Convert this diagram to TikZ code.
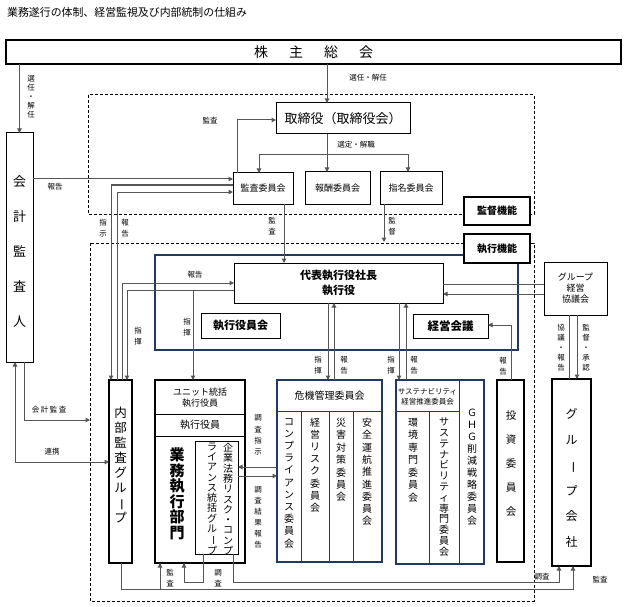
\documentclass[tikz,border=0pt]{standalone}
\usepackage{fontspec}
\usepackage{graphicx}
\setmainfont{Noto Sans CJK JP}
\usetikzlibrary{arrows.meta}
\definecolor{navy}{HTML}{1F3864}
\definecolor{ln}{HTML}{555555}
\newcommand{\vb}{\rotatebox[origin=c]{-90}{ー}}
\newcommand{\fs}[2]{\fontsize{#1}{#2}\selectfont}
\begin{document}
\begin{tikzpicture}[x=1pt,y=-1pt,
  bx/.style={draw=black, fill=white, line width=1pt, inner sep=0pt, outer sep=0pt, align=center},
  nv/.style={draw=navy, fill=white, line width=1.5pt, inner sep=0pt, outer sep=0pt},
  lab/.style={font=\fs{7.5}{10.5}, inner sep=0pt, align=center},
  txt/.style={inner sep=0pt, align=center},
  cn/.style={draw=ln, line width=1pt},
  ar/.style={cn, -{Triangle[length=4.5pt,width=4.5pt]}},
  dar/.style={cn, {Triangle[length=4.5pt,width=4.5pt]}-{Triangle[length=4.5pt,width=4.5pt]}},
  dsh/.style={draw=black, line width=1pt, dash pattern=on 3pt off 2pt},
  sep/.style={draw=black, line width=1pt},
  nsep/.style={draw=navy, line width=1pt},
]
\useasboundingbox (0,0) rectangle (624,607);
\fill[white] (0,0) rectangle (624,607);

% title
\node[txt, anchor=west, font=\fs{10.9}{13}] (title) at (7,12) {業務遂行の体制、経営監視及び内部統制の仕組み};

% regions
\draw[dsh] (88,95) rectangle (534,214);
\draw[dsh] (90,243) rectangle (534,601);
\draw[draw=navy, line width=2pt] (155,255) rectangle (518,350);

% boxes
\node[bx, line width=2pt, minimum width=615, minimum height=24, font=\fs{14}{16}] (kabu) at (313.5,52) {株\hspace{21pt}主\hspace{21pt}総\hspace{21pt}会};
\node[bx, minimum width=27, minimum height=229] (kaikei) at (19.5,247.5) {};
\node[txt, font=\fs{13}{35}] (kaikeit) at (19.5,252) {会\\計\\監\\査\\人};

\node[bx, minimum width=134, minimum height=31, font=\fs{13}{15}] (tori) at (343,118.5) {取締役（取締役会）};
\node[bx, minimum width=60, minimum height=31, font=\fs{9}{11}] (kansa) at (263,188.5) {監査委員会};
\node[bx, minimum width=65, minimum height=32, font=\fs{9}{11}] (hoshu) at (337.5,188) {報酬委員会};
\node[bx, minimum width=62, minimum height=32, font=\fs{9}{11}] (shimei) at (411,188) {指名委員会};
\node[bx, line width=2pt, minimum width=66, minimum height=28, font=\bfseries\fs{10}{12}] (kantoku) at (497,211) {監督機能};
\node[bx, line width=2pt, minimum width=66, minimum height=29, font=\bfseries\fs{10}{12}] (shikko) at (497,248.5) {執行機能};

\node[bx, minimum width=209, minimum height=40, font=\bfseries\fs{11}{15}] (daihyo) at (338.5,283) {代表執行役社長\\執行役};
\node[bx, minimum width=79, minimum height=25, font=\bfseries\fs{11}{13}] (yakuin) at (240.5,325.5) {執行役員会};
\node[bx, minimum width=75, minimum height=24, font=\bfseries\fs{11.5}{13}] (keiei) at (450.5,326) {経営会議};
\node[bx, minimum width=63, minimum height=53, font=\fs{9}{11}] (council) at (575.5,288.5) {グループ\\経営\\協議会};

\node[bx, line width=1.5pt, minimum width=23, minimum height=183] (naibu) at (120.5,471.5) {};
\node[txt, font=\fs{12.5}{15}] (naibut) at (120.5,465) {内\\部\\監\\査\\グ\\ル\\\vb\\プ};

\node[bx, line width=2pt, minimum width=90, minimum height=183] (gyomu) at (200,471.5) {};
\draw[sep] (gyomu.west |- 0,414) -- (gyomu.east |- 0,414);
\draw[sep] (gyomu.west |- 0,436) -- (gyomu.east |- 0,436);
\node[txt, font=\fs{9}{11}] (unit) at (200,397.5) {ユニット統括\\執行役員};
\node[txt, font=\fs{10}{12}] (shikkoy) at (200,425) {執行役員};
\node[txt, font=\bfseries\fs{15}{15.5}] (gyomut) at (177,494) {業\\務\\執\\行\\部\\門};
\node[bx, minimum width=43, minimum height=113] (kigyo) at (216.5,497.5) {};
\node[txt, font=\fs{10}{10.3}] (kigyo1) at (228,499) {企\\業\\法\\務\\リ\\ス\\ク\\・\\コ\\ン\\プ};
\node[txt, font=\fs{10}{10.3}] (kigyo2) at (212,499) {ラ\\イ\\ア\\ン\\ス\\統\\括\\グ\\ル\\\vb\\プ};

\node[nv, minimum width=105, minimum height=182] (kiki) at (329.5,471) {};
\draw[nsep] (kiki.west |- 0,411) -- (kiki.east |- 0,411);
\draw[nsep] (301,411) -- (kiki.south -| 301,0);
\draw[nsep] (329,411) -- (kiki.south -| 329,0);
\draw[nsep] (353,411) -- (kiki.south -| 353,0);
\node[txt, font=\fs{10}{12}] (kikit) at (329.5,395.5) {危機管理委員会};
\node[txt, font=\fs{10}{12.2}] (c1) at (289,483) {コ\\ン\\プ\\ラ\\イ\\ア\\ン\\ス\\委\\員\\会};
\node[txt, font=\fs{10}{12.2}] (c2) at (315,465) {経\\営\\リ\\ス\\ク\\委\\員\\会};
\node[txt, font=\fs{10}{12.4}] (c3) at (341,460) {災\\害\\対\\策\\委\\員\\会};
\node[txt, font=\fs{10}{12.3}] (c4) at (367,472) {安\\全\\運\\航\\推\\進\\委\\員\\会};

\node[nv, minimum width=88, minimum height=184] (sus) at (440,472) {};
\draw[nsep] (sus.west |- 0,411) -- (459,411);
\draw[nsep] (sus.north -| 459,0) -- (sus.south -| 459,0);
\draw[nsep] (429,411) -- (sus.south -| 429,0);
\node[txt, font=\fs{7.5}{10}] (sust) at (427.5,396.5) {サステナビリティ\\経営推進委員会};
\node[txt, font=\fs{10}{12.5}] (s1) at (413,460) {環\\境\\専\\門\\委\\員\\会};
\node[txt, font=\fs{10}{10.8}] (s2) at (444,487) {サ\\ス\\テ\\ナ\\ビ\\リ\\テ\\ィ\\専\\門\\委\\員\\会};
\node[txt, font=\fs{10}{12}] (s3) at (472,467) {Ｇ\\Ｈ\\Ｇ\\削\\減\\戦\\略\\委\\員\\会};

\node[bx, line width=2.5pt, minimum width=27, minimum height=182] (toshi) at (510.5,471) {};
\node[txt, font=\fs{10.5}{24}] (toshit) at (511,464) {投\\資\\委\\員\\会};
\node[bx, line width=1.5pt, minimum width=39, minimum height=187] (groupco) at (571.5,472.5) {};
\node[txt, font=\fs{12}{25.6}] (groupcot) at (571.5,478) {グ\\ル\\\vb\\プ\\会\\社};

% connectors
\draw[ar] (kabu.south -| kaikei.north) -- (kaikei.north);
\draw[ar] (kabu.south -| 327,0) -- (tori.north -| 327,0);
\draw[ar] (tori.south -| 327,0) -- (hoshu.north -| 327,0);
\draw[ar] (tori.south -| 327,0) -- (327,155) -| (kansa.north -| 259,0);
\draw[ar] (tori.south -| 327,0) -- (327,155) -| (shimei.north -| 408,0);
\draw[ar] (kansa.north -| 237,0) |- (tori.west |- 0,120);
\draw[ar] (kaikei.east |- 0,179) -- (kansa.west |- 0,179);
\draw[ar] (kansa.west |- 0,185) -| (naibu.north -| 111,0);
\draw[ar] (naibu.north -| 117,0) |- (kansa.west |- 0,192);
\draw[ar] (naibu.north -| 122,0) |- (daihyo.west |- 0,283);
\draw[ar] (daihyo.west |- 0,290) -| (naibu.north -| 127,0);
\draw[ar] (daihyo.west |- 0,290) -| (gyomu.north -| 193,0);
\draw[ar] (kansa.south -| 284,0) -- (daihyo.north -| 284,0);
\coordinate (kend) at (384,242);
\draw[ar] (shimei.south -| 384,0) -- (kend);
\draw[ar] (daihyo.south -| 328,0) -- (kiki.north -| 328,0);
\draw[ar] (kiki.north -| 334,0) -- (daihyo.south -| 334,0);
\draw[ar] (daihyo.south -| 399,0) -- (sus.north -| 399,0);
\draw[ar] (sus.north -| 406,0) -- (daihyo.south -| 406,0);
\draw[cn] (council.west |- 0,284) -- (daihyo.east |- 0,284);
\draw[ar] (council.west |- 0,294) -- (daihyo.east |- 0,294);
\draw[ar] (toshi.north -| 511,0) |- (keiei.east |- 0,325);
\draw[cn] (council.south -| 569,0) -- (groupco.north -| 569,0);
\draw[ar] (council.south -| 577,0) -- (groupco.north -| 577,0);
\draw[ar] (kiki.west |- 0,467) -- (kigyo.east |- 0,467);
\draw[ar] (kigyo.east |- 0,476) -- (kiki.west |- 0,476);
\coordinate (aend) at (90,420);
\draw[ar] (kaikei.south -| 24,0) |- (aend);
\draw[dar] (kaikei.south -| 15,0) |- (naibu.west |- 0,462);
\draw[ar] (naibu.south -| 121,0) |- (573,589) -- (groupco.south -| 573,0);
\draw[ar] (160,589) -- (gyomu.south -| 160,0);
\draw[ar] (kigyo.south -| 203,0) -- (203,582) -| (gyomu.south -| 184,0);
\draw[ar] (kigyo.south -| 233,0) -- (233,582) -| (groupco.south -| 559,0);

% labels
\node[lab, font=\fs{7.5}{9}] (l1) at (31,97) {選\\任\\・\\解\\任};
\node[lab] (l2) at (368,78) {選任・解任};
\node[lab] (l3) at (356,145) {選定・解職};
\node[lab] (l4) at (210,121) {監査};
\node[lab] (l5) at (55,187) {報告};
\node[lab] (l6) at (103,228) {指\\示};
\node[lab] (l7) at (125,228) {報\\告};
\node[lab] (l8) at (195,275) {報告};
\node[lab] (l9) at (138,336) {指\\揮};
\node[lab] (l10) at (187,327) {指\\揮};
\node[lab] (l11) at (272,226) {監\\査};
\node[lab] (l12) at (392,226) {監\\督};
\node[lab] (l13) at (318,365) {指\\揮};
\node[lab] (l14) at (344,365) {報\\告};
\node[lab] (l15) at (391,365) {指\\揮};
\node[lab] (l16) at (414,365) {報\\告};
\node[lab] (l17) at (503,366) {報\\告};
\node[lab, font=\fs{7.5}{10}] (l18) at (561,348) {協\\議\\・\\報\\告};
\node[lab, font=\fs{7.5}{10}] (l19) at (586,348) {監\\督\\・\\承\\認};
\node[lab, font=\fs{7.5}{11.3}] (l20) at (258,435) {調\\査\\指\\示};
\node[lab, font=\fs{7.5}{11}] (l21) at (258,517) {調\\査\\結\\果\\報\\告};
\node[lab] (l22) at (49,410) {会\hspace{1.5pt}計\hspace{1.5pt}監\hspace{1.5pt}査};
\node[lab] (l23) at (52,452) {連携};
\node[lab] (l24) at (170,578) {監\\査};
\node[lab] (l25) at (218,578) {調\\査};
\node[lab] (l26) at (542,577) {調査};
\node[lab] (l27) at (600,580) {監査};
\end{tikzpicture}
\end{document}
